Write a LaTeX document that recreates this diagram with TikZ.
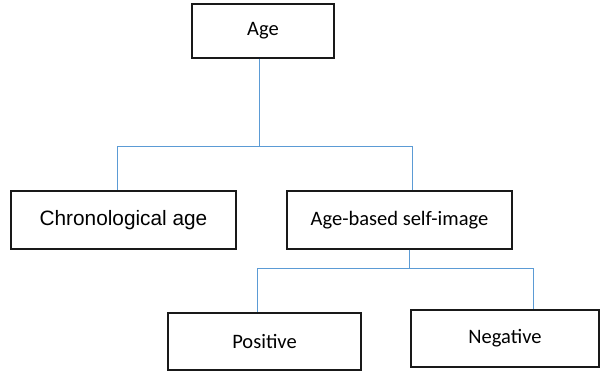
\documentclass[tikz,border=0pt]{standalone}
\usepackage{fontspec}
\setmainfont{Carlito}
\newfontfamily\arialfont{Liberation Sans}
\begin{document}
\begin{tikzpicture}[x=1pt,y=-1pt,
  box/.style={draw=black!90, line width=1.3pt, rectangle, inner sep=0pt,
    font=\fontsize{20.5}{24}\selectfont},
  conn/.style={draw={rgb,255:red,91;green,155;blue,213}, line width=1pt}]
\useasboundingbox (0,0) rectangle (600,371);

% boxes (centre, width, height in px-like units)
\node[box, minimum width=142pt, minimum height=54pt] (age)     at (263,31)    {Age};
\node[box, minimum width=225pt, minimum height=58pt, font=\arialfont\fontsize{20.8}{24}\selectfont] (chron) at (123.5,220) {Chronological age};
\node[box, minimum width=225pt, minimum height=58pt] (selfimg) at (399.5,220) {Age-based self-image};
\node[box, minimum width=193pt, minimum height=57pt] (pos)     at (264.5,341.5) {Positive};
\node[box, minimum width=188pt, minimum height=57pt] (neg)     at (505,338.5) {Negative};

% bus positions
\coordinate (ta) at (259,0);
\coordinate (tc) at (117,0);
\coordinate (tb) at (412,0);
\coordinate (bus1) at (0,147);
\coordinate (sb) at (409,0);
\coordinate (tp) at (257,0);
\coordinate (tn) at (533,0);
\coordinate (bus2) at (0,269);

\draw[conn] (ta |- age.south) -- (ta |- bus1) -| (tc |- chron.north);
\draw[conn] (ta |- bus1) -| (tb |- selfimg.north);
\draw[conn] (sb |- selfimg.south) -- (sb |- bus2) -| (tp |- pos.north);
\draw[conn] (sb |- bus2) -| (tn |- neg.north);
\end{tikzpicture}
\end{document}
